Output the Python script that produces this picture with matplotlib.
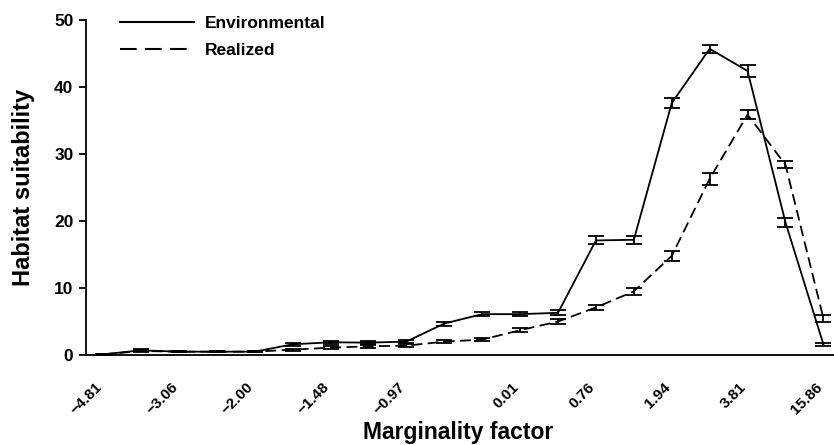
import matplotlib.pyplot as plt
import numpy as np
from matplotlib.lines import Line2D

plt.rcParams['font.family'] = ['Liberation Sans', 'DejaVu Sans']

# 20 marginality classes, only some labelled on the axis
n_classes = 20
tick_idx = [0, 2, 4, 6, 8, 11, 13, 15, 17, 19]
tick_labels = ['\u22124.81', '\u22123.06', '\u22122.00', '\u22121.48', '\u22120.97',
               '0.01', '0.76', '1.94', '3.81', '15.86']

env = [0.1, 0.7, 0.5, 0.5, 0.5, 1.6, 1.9, 1.85, 2.0, 4.7,
       6.1, 6.1, 6.3, 17.1, 17.2, 37.6, 45.7, 42.4, 19.8, 1.6]
env_err = [0.1, 0.15, 0.1, 0.1, 0.1, 0.2, 0.2, 0.25, 0.25, 0.3,
           0.3, 0.3, 0.35, 0.6, 0.6, 0.8, 0.6, 0.85, 0.7, 0.2]

real = [0.1, 0.6, 0.5, 0.5, 0.5, 0.8, 1.1, 1.3, 1.4, 2.0,
        2.3, 3.7, 5.0, 7.1, 9.5, 14.8, 26.3, 35.9, 28.4, 5.5]
real_err = [0.1, 0.1, 0.1, 0.1, 0.1, 0.15, 0.2, 0.25, 0.25, 0.2,
            0.25, 0.3, 0.35, 0.4, 0.5, 0.8, 0.9, 0.6, 0.55, 0.5]

x = np.arange(n_classes)
dash = (0, (6, 3))

fig = plt.figure(figsize=(8.34, 4.45), dpi=100)
ax = fig.add_axes([0.1031, 0.2022, 0.8969, 0.7528])

ax.errorbar(x, env, yerr=env_err, color='black', lw=1.3, capsize=6,
            capthick=1.3, elinewidth=1.3)
ax.errorbar(x, real, yerr=real_err, color='black', lw=1.3, capsize=6,
            capthick=1.3, elinewidth=1.3, linestyle=dash)

ax.set_xlim(-0.45, 19.28)
ax.set_ylim(0, 50)
ax.set_yticks([0, 10, 20, 30, 40, 50])
ax.set_xticks([x[i] for i in tick_idx])
ax.set_xticklabels([])
# rotated labels sit a little left of and below their tick
for i, lab in zip(tick_idx, tick_labels):
    ax.annotate(lab, xy=(x[i], 0), xycoords=('data', 'axes fraction'),
                xytext=(-6, -18), textcoords='offset points',
                rotation=45, ha='right', va='top', rotation_mode='anchor',
                fontsize=11, fontweight='bold')
for lab in ax.get_yticklabels():
    lab.set_fontweight('bold')
    lab.set_fontsize(12.5)
ax.tick_params(axis='x', length=0)
ax.tick_params(axis='y', length=5, width=1.3, direction='out', pad=4)

for s in ['top', 'right']:
    ax.spines[s].set_visible(False)
for s in ['left', 'bottom']:
    ax.spines[s].set_linewidth(1.3)

ax.set_xlabel('Marginality factor', fontsize=16.5, fontweight='bold', va='center')
ax.xaxis.set_label_coords(0.497, -0.232)
ax.set_ylabel('Habitat suitability', fontsize=17, fontweight='bold', va='center')
ax.yaxis.set_label_coords(-0.083, 0.5)

handles = [Line2D([], [], color='black', lw=1.5),
           Line2D([], [], color='black', lw=1.5, linestyle=(0, (8, 4)))]
ax.legend(handles, ['Environmental', 'Realized'], loc='upper left',
          bbox_to_anchor=(0.025, 1.06), frameon=False,
          handlelength=4.25, handletextpad=0.6, labelspacing=0.7,
          prop={'weight': 'bold', 'size': 12.5})

fig.savefig('out.png', dpi=100)
